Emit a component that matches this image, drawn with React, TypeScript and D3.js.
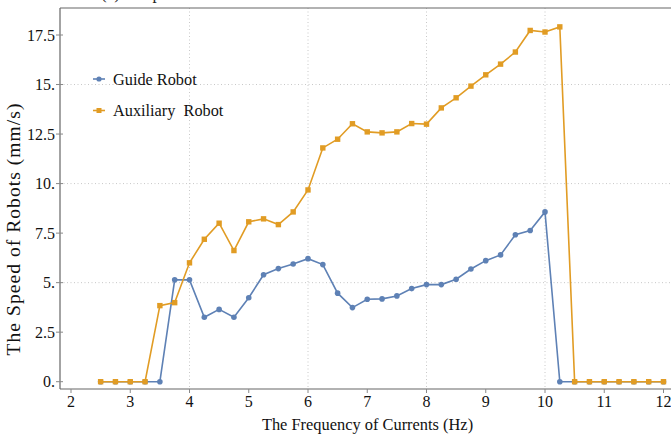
import * as d3 from "d3";

const freq = [
  2.5, 2.75, 3, 3.25, 3.5, 3.75, 4, 4.25, 4.5, 4.75, 5, 5.25, 5.5, 5.75, 6,
  6.25, 6.5, 6.75, 7, 7.25, 7.5, 7.75, 8, 8.25, 8.5, 8.75, 9, 9.25, 9.5, 9.75,
  10, 10.25, 10.5, 10.75, 11, 11.25, 11.5, 11.75, 12,
];

const guideSpeed = [
  0, 0, 0, 0, 0, 5.14, 5.14, 3.25, 3.65, 3.25, 4.24, 5.4, 5.71, 5.94, 6.21,
  5.91, 4.47, 3.74, 4.16, 4.18, 4.33, 4.7, 4.9, 4.9, 5.17, 5.69, 6.11, 6.4,
  7.42, 7.63, 8.57, 0, 0, 0, 0, 0, 0, 0, 0,
];

const auxSpeed = [
  0, 0, 0, 0, 3.84, 3.99, 6.0, 7.19, 8.0, 6.62, 8.07, 8.22, 7.93, 8.57, 9.68,
  11.8, 12.24, 13.02, 12.61, 12.56, 12.61, 13.03, 13.0, 13.82, 14.33, 14.92,
  15.49, 16.03, 16.64, 17.73, 17.65, 17.91, 0, 0, 0, 0, 0, 0, 0,
];

const xTicks = [2, 3, 4, 5, 6, 7, 8, 9, 10, 11, 12];
const yTicks = [0, 2.5, 5, 7.5, 10, 12.5, 15, 17.5];
const yTickLabels = ["0.", "2.5", "5.", "7.5", "10.", "12.5", "15.", "17.5"];
const xGrid = [4, 6, 8, 10];
const yGrid = [5, 10, 15];

const BLUE = "#5E81B5";
const ORANGE = "#E19C24";
const FONT = "'Liberation Serif', 'Times New Roman', serif";

const W = 671;
const H = 434;
const frameLeft = 60;
const frameTop = 8;
const frameBottom = 389;

export default function App() {
  const x = d3.scaleLinear().domain([2, 12]).range([71, 663.5]);
  const y = d3.scaleLinear().domain([0, 17.5]).range([381.7, 35]);

  const line = d3
    .line<number>()
    .x((_, i) => x(freq[i]))
    .y((d) => y(d));

  return (
    <svg
      width={W}
      height={H}
      style={{ position: "absolute", left: 0, top: 0, background: "#fff" }}
      fontFamily={FONT}
    >
      <rect width={W} height={H} fill="#fff" />

      {/* title of the figure, cut off at the top as in the source */}
      <text x={101} y={-1} fontSize={17} fill="#222">(a)</text>
      <text x={143} y={-1} fontSize={17} fill="#222">Speed of Robots</text>

      {/* grid */}
      {xGrid.map((v) => (
        <line
          key={"gx" + v}
          x1={x(v)}
          x2={x(v)}
          y1={frameTop}
          y2={frameBottom}
          stroke="#c8c8c8"
          strokeDasharray="1,2.5"
        />
      ))}
      {yGrid.map((v) => (
        <line
          key={"gy" + v}
          x1={frameLeft}
          x2={W}
          y1={y(v)}
          y2={y(v)}
          stroke="#c8c8c8"
          strokeDasharray="1,2.5"
        />
      ))}

      {/* frame */}
      <line x1={frameLeft} x2={W + 5} y1={frameTop} y2={frameTop} stroke="#666" strokeWidth={1.2} />
      <line x1={frameLeft} x2={W + 5} y1={frameBottom} y2={frameBottom} stroke="#666" strokeWidth={1.2} />
      <line x1={frameLeft} x2={frameLeft} y1={frameTop} y2={frameBottom} stroke="#666" strokeWidth={1.2} />

      {/* y ticks */}
      {yTicks.map((v, i) => (
        <g key={"yt" + v}>
          <line x1={frameLeft - 4} x2={frameLeft + 3} y1={y(v)} y2={y(v)} stroke="#888" />
          <text
            x={55}
            y={y(v)}
            dy="0.35em"
            textAnchor="end"
            fontSize={16}
            fill="#111"
          >
            {yTickLabels[i]}
          </text>
        </g>
      ))}

      {/* x ticks */}
      {xTicks.map((v) => (
        <g key={"xt" + v}>
          <line x1={x(v)} x2={x(v)} y1={frameBottom} y2={frameBottom + 4} stroke="#888" />
          <text x={x(v)} y={407} textAnchor="middle" fontSize={16} fill="#111">
            {v}
          </text>
        </g>
      ))}

      {/* axis titles */}
      <text x={367.5} y={430} textAnchor="middle" fontSize={16.4} fill="#111">
        The Frequency of Currents (Hz)
      </text>
      <text
        transform={`translate(20, 229.5) rotate(-90)`}
        textAnchor="middle"
        fontSize={19.5}
        fill="#111"
        textLength={252}
        lengthAdjust="spacing"
      >
        The Speed of Robots (mm/s)
      </text>

      {/* guide robot */}
      <path d={line(guideSpeed) ?? ""} fill="none" stroke={BLUE} strokeWidth={1.6} />
      {guideSpeed.map((v, i) => (
        <circle key={"gp" + i} cx={x(freq[i])} cy={y(v)} r={2.8} fill={BLUE} />
      ))}

      {/* auxiliary robot */}
      <path d={line(auxSpeed) ?? ""} fill="none" stroke={ORANGE} strokeWidth={1.6} />
      {auxSpeed.map((v, i) => (
        <rect
          key={"ap" + i}
          x={x(freq[i]) - 2.7}
          y={y(v) - 2.7}
          width={5.4}
          height={5.4}
          fill={ORANGE}
        />
      ))}

      {/* legend */}
      <line x1={93} x2={105} y1={79} y2={79} stroke={BLUE} strokeWidth={1.6} />
      <circle cx={99} cy={79} r={2.6} fill={BLUE} />
      <text x={113} y={85} fontSize={16.3} fill="#111">Guide Robot</text>
      <line x1={93} x2={105} y1={110.5} y2={110.5} stroke={ORANGE} strokeWidth={1.6} />
      <rect x={96.5} y={108} width={5} height={5} fill={ORANGE} />
      <text x={113} y={116} fontSize={16.3} fill="#111" xmlSpace="preserve">
        Auxiliary  Robot
      </text>
    </svg>
  );
}
